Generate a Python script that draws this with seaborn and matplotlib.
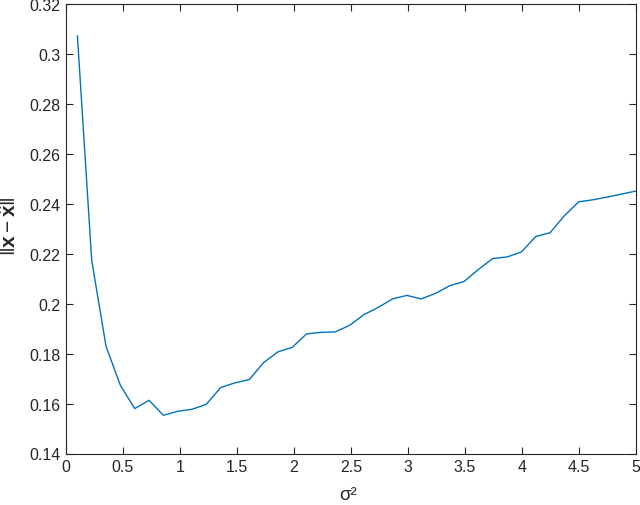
import numpy as np
import pandas as pd
import matplotlib
matplotlib.use("Agg")
import matplotlib.pyplot as plt
import seaborn as sns

sigma2 = [0.1, 0.2256, 0.3513, 0.4769, 0.6026, 0.7282, 0.8538, 0.9795, 1.1051, 1.2308,
          1.3564, 1.4821, 1.6077, 1.7333, 1.8590, 1.9846, 2.1103, 2.2359, 2.3615, 2.4872,
          2.6128, 2.7385, 2.8641, 2.9897, 3.1154, 3.2410, 3.3667, 3.4923, 3.6179, 3.7436,
          3.8692, 3.9949, 4.1205, 4.2462, 4.3718, 4.4974, 4.6231, 4.7487, 4.8744, 5.0]
err = [0.3073, 0.2173, 0.1829, 0.1673, 0.1580, 0.1613, 0.1553, 0.1569, 0.1577, 0.1597,
       0.1664, 0.1683, 0.1696, 0.1764, 0.1807, 0.1825, 0.1879, 0.1885, 0.1887, 0.1913,
       0.1956, 0.1985, 0.2019, 0.2033, 0.2019, 0.2041, 0.2072, 0.2089, 0.2137, 0.2181,
       0.2187, 0.2207, 0.2269, 0.2284, 0.2352, 0.2408, 0.2416, 0.2427, 0.2439, 0.2451]
xticks = [0, 0.5, 1, 1.5, 2, 2.5, 3, 3.5, 4, 4.5, 5]
xticklabels = ["0", "0.5", "1", "1.5", "2", "2.5", "3", "3.5", "4", "4.5", "5"]
yticks = [0.14, 0.16, 0.18, 0.2, 0.22, 0.24, 0.26, 0.28, 0.3, 0.32]
yticklabels = ["0.14", "0.16", "0.18", "0.2", "0.22", "0.24", "0.26", "0.28", "0.3", "0.32"]

sns.set_style("white")
plt.rcParams["font.family"] = ["Liberation Sans", "DejaVu Sans"]
plt.rcParams["mathtext.fontset"] = "custom"
plt.rcParams["mathtext.rm"] = "Liberation Sans"
plt.rcParams["mathtext.it"] = "Liberation Sans"
plt.rcParams["mathtext.bf"] = "Liberation Sans:bold"

df = pd.DataFrame({"sigma2": sigma2, "err": err})

fig = plt.figure(figsize=(6.4, 5.06), dpi=100)
ax = fig.add_axes([66 / 640, (506 - 454.5) / 506, 570 / 640, 449.5 / 506])
sns.lineplot(data=df, x="sigma2", y="err", ax=ax, color="#0072BD", linewidth=1.0)

ax.set_xlim(0, 5)
ax.set_ylim(0.14, 0.32)
ax.set_xticks(xticks)
ax.set_xticklabels(xticklabels)
ax.set_yticks(yticks)
ax.set_yticklabels(yticklabels)

dark = "#262626"
for s in ax.spines.values():
    s.set_visible(True)
    s.set_color(dark)
    s.set_linewidth(0.8)
ax.tick_params(direction="in", length=5, width=0.8, colors=dark, labelsize=11.5,
               top=True, right=True, bottom=True, left=True,
               labeltop=False, labelright=False, pad=4)

ax.set_xlabel("σ²", fontsize=13.5, color=dark)
ax.set_ylabel(r"$\|\mathbf{x} - \hat{\mathbf{x}}\|$", fontsize=15, color=dark)
ax.xaxis.set_label_coords(0.5 - 3 / 570, -(487 - 454.5) / 449.5)
ax.yaxis.set_label_coords(-(66 - 20) / 570, (454.5 - 226.5) / 449.5)

fig.savefig("out.png", dpi=100)
